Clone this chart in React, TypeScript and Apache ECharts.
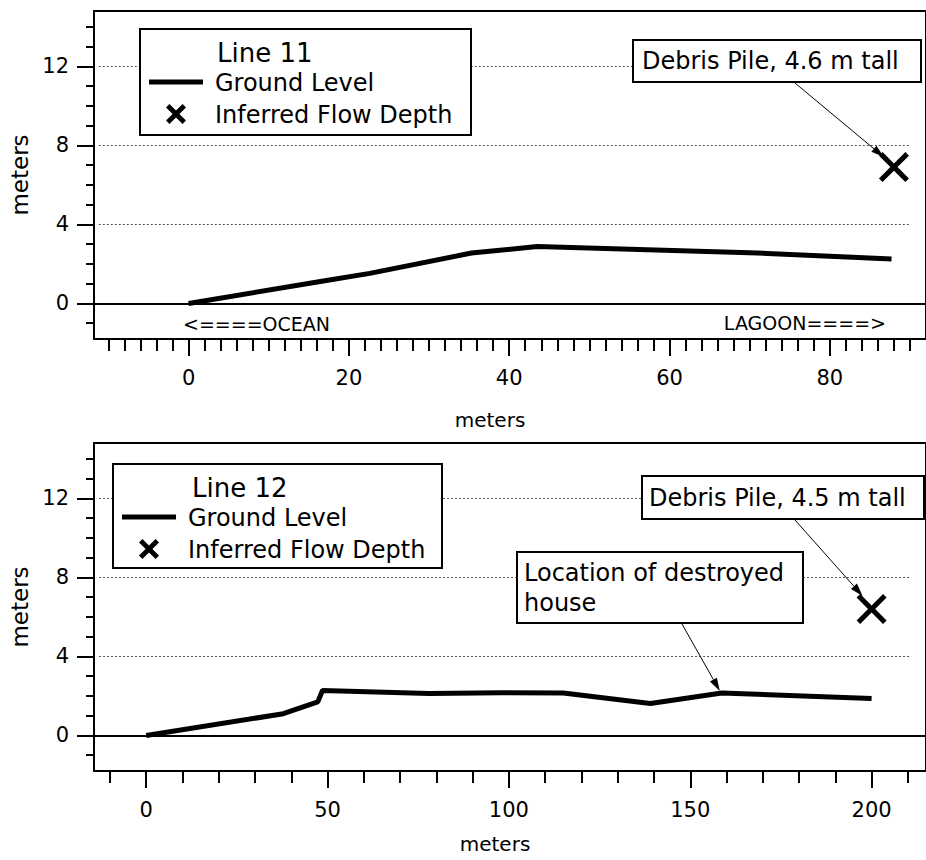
import React, { useEffect, useRef } from "react";
import * as echarts from "echarts";

// ---- data ----
const topGroundX = [0, 17, 22.6, 35.3, 43.5, 71, 87.7];
const topGroundY = [0, 1.15, 1.52, 2.55, 2.88, 2.55, 2.25];
const topFlowX = [88];
const topFlowY = [6.9];

const botGroundX = [0, 37.8, 47.3, 48.6, 78, 98, 115, 139, 158.7, 200];
const botGroundY = [0, 1.1, 1.7, 2.27, 2.12, 2.16, 2.15, 1.62, 2.15, 1.87];
const botFlowX = [200];
const botFlowY = [6.4];

const houseX = 158.7;
const houseY = 2.15;

const topXMajor = [0, 20, 40, 60, 80];
const botXMajor = [0, 50, 100, 150, 200];
const yMajor = [0, 4, 8, 12];
const gridValues = [4, 8, 12];

const range = (a: number, b: number, s: number) => {
  const r: number[] = [];
  for (let v = a; v <= b + 1e-9; v += s) r.push(Math.round(v * 100) / 100);
  return r;
};
const topXMinor = range(-10, 90, 2);
const botXMinor = range(-10, 210, 10);
const yMinor = range(-1, 14, 1);

const FONT = "DejaVu Sans";
const XPATH =
  "path://M0,12 L12,0 L50,38 L88,0 L100,12 L62,50 L100,88 L88,100 L50,62 L12,100 L0,88 L38,50 Z";

const pairs = (xs: number[], ys: number[]) => xs.map((x, i) => [x, ys[i]]);

function xShape(cx: number, cy: number, size: number, t: number) {
  const a = 50 - t;
  const b = 50 + t;
  const u = [
    [0, t], [t, 0], [50, a], [100 - t, 0], [100, t], [b, 50],
    [100, 100 - t], [100 - t, 100], [50, b], [t, 100], [0, 100 - t], [a, 50],
  ];
  return u.map(([p, q]) => [cx - size / 2 + (p / 100) * size, cy - size / 2 + (q / 100) * size]);
}

function arrow(x1: number, y1: number, x2: number, y2: number) {
  const dx = x2 - x1;
  const dy = y2 - y1;
  const len = Math.sqrt(dx * dx + dy * dy);
  const ux = dx / len;
  const uy = dy / len;
  const hl = 13;
  const hw = 4;
  const bx = x2 - ux * hl;
  const by = y2 - uy * hl;
  return [
    {
      type: "line",
      z: 110,
      shape: { x1, y1, x2: bx, y2: by },
      style: { stroke: "#000", lineWidth: 1 },
    },
    {
      type: "polygon",
      z: 110,
      shape: {
        points: [
          [x2, y2],
          [bx - uy * hw, by + ux * hw],
          [bx + uy * hw, by - ux * hw],
        ],
      },
      style: { fill: "#000" },
    },
  ];
}

function legend(x: number, y: number, w: number, h: number, title: string, titleX: number) {
  return [
    {
      type: "rect",
      z: 100,
      shape: { x, y, width: w, height: h },
      style: { fill: "#fff", stroke: "#000", lineWidth: 2 },
    },
    {
      type: "text",
      z: 101,
      style: { text: title, x: titleX, y: y + 24, fontSize: 26, fontFamily: FONT, fill: "#000", verticalAlign: "middle" },
    },
    {
      type: "line",
      z: 101,
      shape: { x1: x + 9, y1: y + 53, x2: x + 63, y2: y + 53 },
      style: { stroke: "#000", lineWidth: 5 },
    },
    {
      type: "text",
      z: 101,
      style: { text: "Ground Level", x: x + 75, y: y + 54, fontSize: 24, fontFamily: FONT, fill: "#000", verticalAlign: "middle" },
    },
    {
      type: "polygon",
      z: 101,
      shape: { points: xShape(x + 36, y + 85, 20, 17) },
      style: { fill: "#000" },
    },
    {
      type: "text",
      z: 101,
      style: { text: "Inferred Flow Depth", x: x + 75, y: y + 86, fontSize: 24, fontFamily: FONT, fill: "#000", verticalAlign: "middle" },
    },
  ];
}

function textBox(x: number, y: number, w: number, h: number, lines: string[], tx: number, ty: number) {
  return [
    {
      type: "rect",
      z: 100,
      shape: { x, y, width: w, height: h },
      style: { fill: "#fff", stroke: "#000", lineWidth: 2 },
    },
    ...lines.map((t, i) => ({
      type: "text",
      z: 101,
      style: { text: t, x: tx, y: ty + i * 30, fontSize: 24, fontFamily: FONT, fill: "#000", verticalAlign: "middle" },
    })),
  ];
}

function axesFor(grid: number, xmin: number, xmax: number, major: number[], minor: number[], namePad: number, nameGap: number) {
  const common = {
    type: "value",
    gridIndex: grid,
    min: xmin,
    max: xmax,
    position: "bottom",
    splitLine: { show: false },
  };
  return [
    {
      ...common,
      name: "meters",
      nameLocation: "middle",
      nameGap,
      nameTextStyle: { fontSize: 20, fontFamily: FONT, color: "#000", padding: [0, namePad, 0, 0] },
      axisLine: { show: true, onZero: false, lineStyle: { color: "#000", width: 2 } },
      axisTick: { show: true, customValues: major, length: 17, lineStyle: { color: "#000", width: 2 } },
      axisLabel: { show: true, customValues: major, margin: 28, fontSize: 21, fontFamily: FONT, color: "#000" },
    },
    {
      ...common,
      axisLine: { show: false, onZero: false },
      axisTick: { show: true, customValues: minor, length: 12, lineStyle: { color: "#000", width: 2 } },
      axisLabel: { show: false },
    },
  ];
}

function yAxesFor(grid: number) {
  const common = {
    type: "value",
    gridIndex: grid,
    min: -1.8,
    max: 14.8,
    position: "left",
    splitLine: { show: false },
  };
  return [
    {
      ...common,
      name: "meters",
      nameLocation: "middle",
      nameGap: 63,
      nameTextStyle: { fontSize: 23, fontFamily: FONT, color: "#000" },
      axisLine: { show: true, onZero: false, lineStyle: { color: "#000", width: 2 } },
      axisTick: { show: true, customValues: yMajor, length: 17, lineStyle: { color: "#000", width: 2 } },
      axisLabel: { show: true, customValues: yMajor, margin: 25, fontSize: 21, fontFamily: FONT, color: "#000" },
    },
    {
      ...common,
      axisLine: { show: false, onZero: false },
      axisTick: { show: true, customValues: yMinor, length: 8, lineStyle: { color: "#000", width: 2 } },
      axisLabel: { show: false },
    },
  ];
}

function gridMarks(xFrom: number, xTo: number) {
  return {
    silent: true,
    symbol: ["none", "none"],
    label: { show: false },
    data: [
      ...gridValues.map((v) => [
        { coord: [xFrom, v], lineStyle: { color: "#555", width: 1, type: [2, 2] } },
        { coord: [xTo, v] },
      ]),
      { yAxis: 0, lineStyle: { color: "#000", width: 2, type: "solid" } },
    ],
  };
}

export default function App() {
  const ref = useRef<HTMLDivElement>(null);
  useEffect(() => {
    if (!ref.current) return;
    const chart = echarts.init(ref.current, null, { renderer: "svg" });
    chart.setOption({
      animation: false,
      backgroundColor: "#fff",
      textStyle: { fontFamily: FONT },
      grid: [
        { left: 90, top: 11, right: -8, height: 328, show: true, borderColor: "#000", borderWidth: 2, backgroundColor: "transparent" },
        { left: 90, top: 443, right: -8, height: 328, show: true, borderColor: "#000", borderWidth: 2, backgroundColor: "transparent" },
      ],
      xAxis: [
        ...axesFor(0, -11.8, 92, topXMajor, topXMinor, 40, 71),
        ...axesFor(1, -14.4, 215, botXMajor, botXMinor, 30, 63),
      ],
      yAxis: [...yAxesFor(0), ...yAxesFor(1)],
      series: [
        {
          type: "line",
          name: "Ground Level",
          xAxisIndex: 0,
          yAxisIndex: 0,
          data: pairs(topGroundX, topGroundY),
          symbol: "none",
          lineStyle: { color: "#000", width: 5 },
          markLine: gridMarks(-11.2, 90),
          z: 3,
        },
        {
          type: "scatter",
          name: "Inferred Flow Depth",
          xAxisIndex: 0,
          yAxisIndex: 0,
          data: pairs(topFlowX, topFlowY),
          symbol: XPATH,
          symbolSize: 30,
          itemStyle: { color: "#000", opacity: 1 },
          z: 4,
        },
        {
          type: "line",
          name: "Ground Level",
          xAxisIndex: 2,
          yAxisIndex: 2,
          data: pairs(botGroundX, botGroundY),
          symbol: "none",
          lineStyle: { color: "#000", width: 5 },
          markLine: gridMarks(-13, 210.6),
          z: 3,
        },
        {
          type: "scatter",
          name: "Inferred Flow Depth",
          xAxisIndex: 2,
          yAxisIndex: 2,
          data: pairs(botFlowX, botFlowY),
          symbol: XPATH,
          symbolSize: 30,
          itemStyle: { color: "#000", opacity: 1 },
          z: 4,
        },
      ],
    });

    const pTop = chart.convertToPixel({ xAxisIndex: 0, yAxisIndex: 0 }, [topFlowX[0], topFlowY[0]]) as number[];
    const pBot = chart.convertToPixel({ xAxisIndex: 2, yAxisIndex: 2 }, [botFlowX[0], botFlowY[0]]) as number[];
    const pHouse = chart.convertToPixel({ xAxisIndex: 2, yAxisIndex: 2 }, [houseX, houseY]) as number[];

    chart.setOption({
      graphic: [
        ...legend(140, 29, 331, 106, "Line 11", 217),
        ...legend(113, 464, 329, 104, "Line 12", 192),
        ...textBox(633, 40, 288, 42, ["Debris Pile, 4.6 m tall"], 642, 61),
        ...arrow(795, 83, pTop[0] - 10, pTop[1] - 10),
        ...textBox(642, 476, 282, 43, ["Debris Pile, 4.5 m tall"], 649, 498),
        ...arrow(795, 520, pBot[0] - 9, pBot[1] - 13),
        ...textBox(517, 552, 286, 71, ["Location of destroyed", "house"], 524, 573),
        ...arrow(682, 624, pHouse[0] - 2, pHouse[1] - 2),
        {
          type: "text",
          z: 50,
          style: { text: "<====OCEAN", x: 183, y: 324, fontSize: 19, fontFamily: FONT, fill: "#000", verticalAlign: "middle" },
        },
        {
          type: "text",
          z: 50,
          style: { text: "LAGOON====>", x: 886, y: 323, fontSize: 19, fontFamily: FONT, fill: "#000", verticalAlign: "middle", align: "right" },
        },
      ],
    });

    return () => chart.dispose();
  }, []);
  return <div ref={ref} style={{ position: "fixed", left: 0, top: 0, width: 926, height: 860 }} />;
}
